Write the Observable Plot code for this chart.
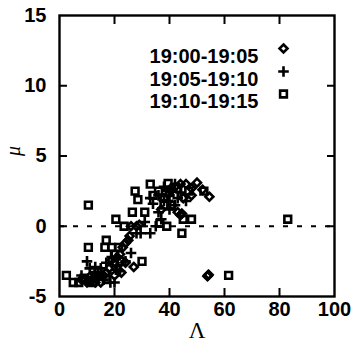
<!DOCTYPE html>
<html><head><meta charset="utf-8">
<script src="https://cdn.jsdelivr.net/npm/d3@7"></script>
<script src="https://cdn.jsdelivr.net/npm/@observablehq/plot@0.6"></script>
<style>html,body{margin:0;padding:0;background:#fff} svg{display:block}</style>
</head><body><div id="chart"></div>
<script>
const seriesNames = ["19:00-19:05", "19:05-19:10", "19:10-19:15"];
const seriesSymbols = ["diamond2", "plus", "square2"];

const xTicks = [0, 20, 40, 60, 80, 100];
const yTicks = [-5, 0, 5, 10, 15];
const xInnerTicks = [20, 40, 60, 80];
const yInnerTicks = [0, 5, 10];

// 19:00-19:05 (diamonds)
const lambdaA = [8, 10, 12, 14, 15, 16, 18, 20, 21, 22, 23, 24, 25, 25.5, 26, 28, 29, 27, 24, 20, 22.5,
  37, 38, 40, 42, 44, 46, 48, 50, 52, 54.5, 48, 45, 43, 44, 44.5, 41, 54, 54.2, 53.8, 11, 13, 17, 19];
const muA = [-3.8, -4, -3.8, -3.6, -4, -3.5, -3, -2.6, -2.2, -2, -1.5, -1.2, -1, -0.7, 0, 0, 0.1, -2.9, -2.6, -3.5, -3.3,
  1.2, 2, 2.6, 2.8, 3, 3, 2.7, 3.1, 2.6, 2.1, 2.2, 2, 1, 0.8, 0.9, 1.5, -3.5, -3.45, -3.55, -3.6, -4, -3.3, -2.4];

// 19:05-19:10 (plus)
const lambdaB = [8, 10, 11, 12, 13, 14, 15, 16, 18.5, 20, 19, 21, 22, 24, 26, 28, 29.5, 33, 31, 33, 34, 36, 37, 38,
  39.5, 40, 41, 42, 43, 44, 36, 38, 40, 42, 46, 35, 17, 20.5];
const muB = [-3.5, -2.5, -3, -3.6, -2.9, -3.3, -3, -3.8, -4, -4, -2.2, -2.8, -3.2, -2.5, -1.9, -0.5, -0.5, -0.5, 0.3, 2, 1.6, 1, 0.5, 1.8,
  1.8, 2.2, 2.5, 3, 2, 2.4, 2.2, 2.8, 1.2, 1.5, 1.8, 0, -2.6, -3.1];

// 19:10-19:15 (squares)
const lambdaC = [2.5, 5, 7, 9, 11, 13, 10.5, 10.5, 17, 16.5, 19, 21.5, 20.5, 23.5, 26.5, 27.5, 28.5, 31, 33, 34, 36, 39.5,
  38, 39, 36.5, 44.5, 45, 48, 47, 52.5, 61.5, 83, 30, 22, 14, 17, 12, 20, 43, 40];
const muC = [-3.5, -4, -4, -3.7, -3.9, -3.5, -1.5, 1.5, -1, -1.5, -1.5, -1.5, 0.5, 0, 1, 2.5, 1.9, 1, 3, 2.2, 2.5, 3.05,
  1.5, 0, 0.2, -0.5, 0.5, 0.5, 2.5, 2.5, -3.5, 0.5, -2.5, -2.5, -3.2, -3.8, -4, -2, 2.7, 2.4];

const lambdas = [lambdaA, lambdaB, lambdaC];
const mus = [muA, muB, muC];
const symbolRadius = [3.6, 3.5, 4.3];
const seriesRows = seriesNames.map((s, i) => lambdas[i].map((l, j) => ({series: s, lambda: l, mu: mus[i][j]})));

const font = "'Liberation Sans', Arial, Helvetica, sans-serif";
const serif = "'Liberation Serif', 'Times New Roman', serif";
const legendOffsets = [33, 56, 78.5];
const ink = {stroke: "#000", strokeWidth: 2.6, fill: "none"};
const label = {fontSize: 20, fontWeight: "bold", fontFamily: font, fill: "#000"};

const plot = Plot.plot({
  width: 351,
  height: 355,
  marginLeft: 59,
  marginRight: 17,
  marginTop: 15,
  marginBottom: 59,
  style: {fontFamily: font, background: "#fff", color: "#000"},
  x: {domain: [0, 100]},
  y: {domain: [-5, 15]},
  symbol: {domain: seriesNames, range: seriesSymbols},
  marks: [
    Plot.ruleY([0], {stroke: "#000", strokeWidth: 1.8, strokeDasharray: "5,9"}),
    ...seriesRows.map((rows, i) => Plot.dot(rows, {x: "lambda", y: "mu", symbol: "series", r: symbolRadius[i], ...ink})),
    Plot.text(xTicks, {x: d => d, frameAnchor: "bottom", dy: 19, ...label}),
    Plot.text(yTicks, {y: d => d, frameAnchor: "left", dx: -13, textAnchor: "end", ...label}),
    Plot.axisX(xInnerTicks, {anchor: "bottom", tickSize: -8, text: null, strokeWidth: 2, label: null}),
    Plot.axisX(xInnerTicks, {anchor: "top", tickSize: -8, text: null, strokeWidth: 2, label: null}),
    Plot.axisY(yInnerTicks, {anchor: "left", tickSize: -8, text: null, strokeWidth: 2, label: null}),
    Plot.axisY(yInnerTicks, {anchor: "right", tickSize: -8, text: null, strokeWidth: 2, label: null}),
    Plot.frame({stroke: "#000", strokeWidth: 2.4}),
    Plot.text(["Λ"], {frameAnchor: "bottom", dy: 41, fontSize: 23, fontFamily: serif}),
    Plot.text(["μ"], {frameAnchor: "left", dx: -46, rotate: -90, fontSize: 20, fontStyle: "italic", fontFamily: serif}),
    ...seriesNames.map((s, i) => Plot.text([s], {frameAnchor: "top-right", dx: -76, dy: legendOffsets[i], textAnchor: "end", ...label})),
    ...seriesNames.map((s, i) => Plot.dot([s], {frameAnchor: "top-right", dx: -51, dy: legendOffsets[i], symbol: d => d, r: symbolRadius[i], ...ink}))
  ]
});
document.getElementById("chart").appendChild(plot);
</script>
</body></html>
